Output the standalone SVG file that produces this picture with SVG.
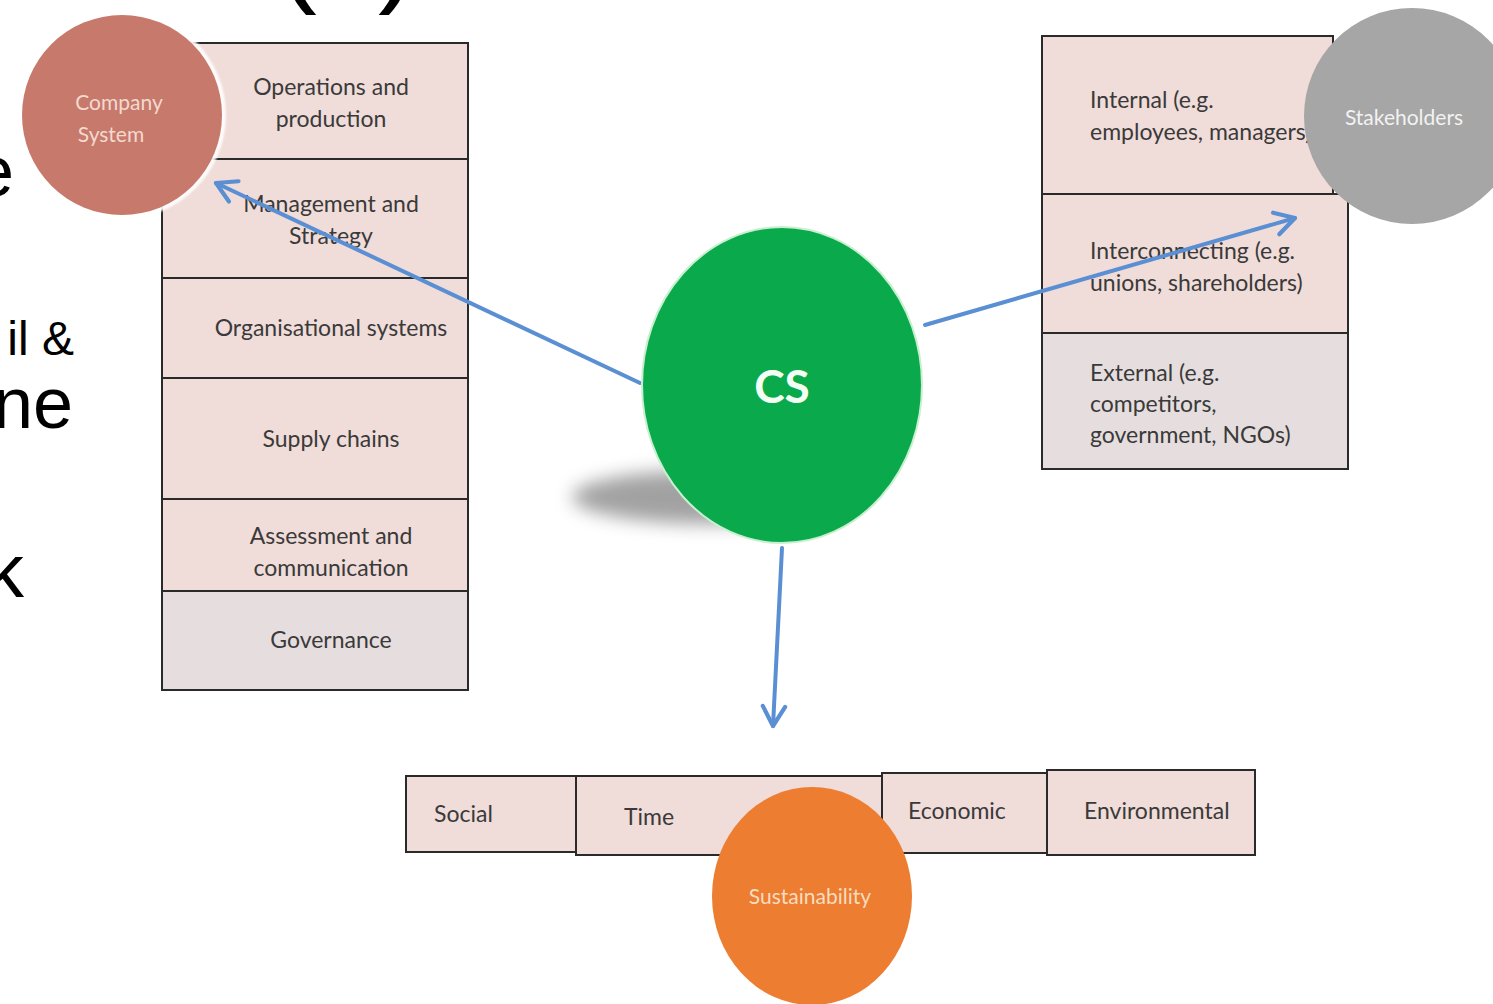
<svg xmlns="http://www.w3.org/2000/svg" width="1493" height="1004" viewBox="0 0 1493 1004">
<style>
.bg{font-family:"Liberation Sans",Arial,sans-serif;fill:#000}
.cell{fill:#f0dcd8;stroke:#2a2a2a;stroke-width:2}
.cellg{fill:#e6dede;stroke:#2a2a2a;stroke-width:2}
.t{font-family:Lato,"Open Sans",sans-serif;font-size:23px;fill:#3a3a3a}
.tc{text-anchor:middle;dominant-baseline:central}
.tl{dominant-baseline:central}
.ct{font-family:Lato,"Open Sans",sans-serif;font-size:21px;text-anchor:middle;dominant-baseline:central}
.conn{fill:none;stroke:#5b8fd4;stroke-width:4;stroke-linecap:round}
</style>
<defs>
<marker id="arr" viewBox="0 0 20 20" refX="17" refY="10" markerWidth="7" markerHeight="7" orient="auto" markerUnits="strokeWidth">
<path d="M3,2 L17,10 L3,18" fill="none" stroke="#5b8fd4" stroke-width="3" stroke-linecap="round" stroke-linejoin="round"/>
</marker>
<filter id="blur" x="-50%" y="-100%" width="200%" height="300%"><feGaussianBlur stdDeviation="9"/></filter>
<filter id="glow" x="-20%" y="-20%" width="140%" height="140%"><feGaussianBlur stdDeviation="1.2"/></filter>
</defs>
<rect width="1493" height="1004" fill="#ffffff"/>
<g id="background-text">
<text class="bg" x="277" y="-10" font-size="120">(</text>
<text class="bg" x="378" y="-10" font-size="120">)</text>
<text class="bg" x="14" y="196" font-size="72" text-anchor="end">e</text>
<text class="bg" x="74" y="355" font-size="48" text-anchor="end">il &amp;</text>
<text class="bg" x="73" y="428" font-size="72" text-anchor="end">ne</text>
<text class="bg" x="24" y="597" font-size="76" text-anchor="end">k</text>
</g>
<g id="company-rows">
<rect class="cell" x="162" y="43" width="306" height="116"/>
<text class="t tc" x="331" y="86">Operations and</text>
<text class="t tc" x="331" y="118">production</text>
<rect class="cell" x="162" y="159" width="306" height="119"/>
<text class="t tc" x="331" y="203">Management and</text>
<text class="t tc" x="331" y="235">Strategy</text>
<rect class="cell" x="162" y="278" width="306" height="100"/>
<text class="t tc" x="331" y="327">Organisational systems</text>
<rect class="cell" x="162" y="378" width="306" height="121"/>
<text class="t tc" x="331" y="438">Supply chains</text>
<rect class="cell" x="162" y="499" width="306" height="92"/>
<text class="t tc" x="331" y="535">Assessment and</text>
<text class="t tc" x="331" y="567">communication</text>
<rect class="cellg" x="162" y="591" width="306" height="99"/>
<text class="t tc" x="331" y="639">Governance</text>
</g>
<g id="stakeholder-rows">
<rect class="cell" x="1042" y="36" width="291" height="158"/>
<text class="t tl" x="1090" y="99">Internal (e.g.</text>
<text class="t tl" x="1090" y="131">employees, managers)</text>
<rect class="cell" x="1042" y="194" width="306" height="139"/>
<text class="t tl" x="1090" y="250">Interconnecting (e.g.</text>
<text class="t tl" x="1090" y="282">unions, shareholders)</text>
<rect class="cellg" x="1042" y="333" width="306" height="136"/>
<text class="t tl" x="1090" y="372">External (e.g.</text>
<text class="t tl" x="1090" y="403">competitors,</text>
<text class="t tl" x="1090" y="434">government, NGOs)</text>
</g>
<g id="sustainability-boxes">
<rect class="cell" x="406" y="776" width="170" height="76"/>
<text class="t tl" x="434" y="813">Social</text>
<rect class="cell" x="576" y="776" width="306" height="79"/>
<text class="t tl" x="624" y="816">Time</text>
<rect class="cell" x="882" y="773" width="165" height="80"/>
<text class="t tl" x="908" y="810">Economic</text>
<rect class="cell" x="1047" y="770" width="208" height="85"/>
<text class="t tl" x="1084" y="810">Environmental</text>
</g>
<g id="connectors">
<line class="conn" x1="640" y1="383" x2="216" y2="183" marker-end="url(#arr)"/>
<line class="conn" x1="925" y1="325" x2="1295" y2="218" marker-end="url(#arr)"/>
<line class="conn" x1="782" y1="548" x2="773" y2="726" marker-end="url(#arr)"/>
</g>
<g id="cs">
<ellipse cx="712" cy="497" rx="140" ry="27" fill="#7a7a7a" opacity="0.7" filter="url(#blur)"/>
<ellipse cx="782" cy="385" rx="140" ry="158" fill="#0aaa4c" stroke="#c8f0d0" stroke-width="2"/>
<text x="782" y="385" font-family="Lato,'Open Sans',sans-serif" font-size="46" font-weight="bold" fill="#f4fff4" text-anchor="middle" dominant-baseline="central">CS</text>
</g>
<g id="company-system">
<circle cx="122" cy="115" r="104" fill="#ffffff" opacity="0.9" filter="url(#glow)"/>
<circle cx="122" cy="115" r="100" fill="#c77a6b"/>
<text class="ct" x="119" y="101" fill="#f3d9d0">Company</text>
<text class="ct" x="111" y="133" fill="#f3d9d0">System</text>
</g>
<g id="stakeholders">
<circle cx="1412" cy="116" r="108" fill="#a6a6a6"/>
<text class="ct" x="1404" y="116" fill="#f2f2f2">Stakeholders</text>
</g>
<g id="sustainability">
<ellipse cx="812" cy="896" rx="100" ry="109" fill="#ed7d31"/>
<text class="ct" x="810" y="895" fill="#f8dcc0">Sustainability</text>
</g>
</svg>
